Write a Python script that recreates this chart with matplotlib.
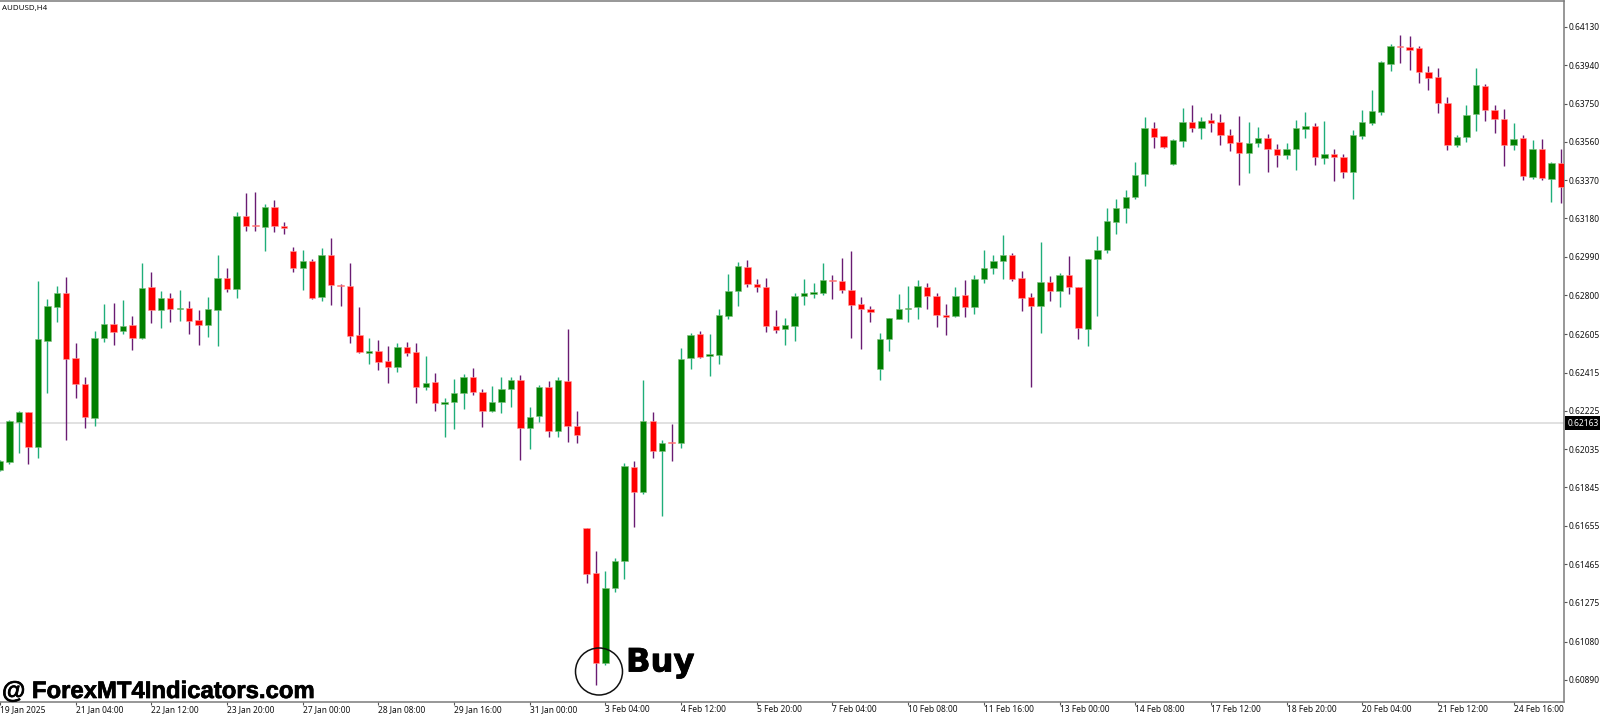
import matplotlib
matplotlib.use("Agg")
import matplotlib.pyplot as plt
import matplotlib.patheffects as pe
from matplotlib.patches import Circle
import numpy as np

# candle direction, G = bullish, R = bearish
directions = ("GGGRGGGRRR" "GGRGRGRGRG" "RRGGRGRRGR" "RRGRGRRRRG" "RRGRRGRGGG"
              "RRGGGRGGRG" "RRRRGGGRGR" "GRGGRGGGGR" "RRRGGGGGRR" "RRRGGGGGRR"
              "RGRGGGGRRR" "GRGRRGGGGG" "GGRRGGRGRR" "RRGGRRGGGR" "GRRGGGGGRR"
              "RRRRGGGRRR" "GRGRGR")

# prices in points (1 point = 0.00001)
highs = [
 61980,62178,62226,62222,62868,62778,62846,62891,62560,62395,
 62623,62758,62762,62775,62696,62959,62914,62820,62811,62823,
 62770,62724,62790,62998,62932,63210,63308,63311,63250,63271,
 63164,63036,63023,62978,63031,63081,62853,62960,62743,62585,
 62576,62545,62560,62565,62560,62499,62413,62290,62381,62408,
 62436,62333,62350,62395,62395,62403,62244,62353,62371,62395,
 62629,62224,61643,61530,61429,61495,61965,61977,62377,62218,
 62083,62160,62539,62614,62623,62607,62730,62904,62964,62974,
 62881,62883,62724,62687,62810,62881,62861,62957,62901,62982,
 63017,62788,62745,62611,62687,62803,62844,62874,62861,62810,
 62754,62840,62873,62897,63023,62997,63097,63011,62919,62808,
 63063,62896,62911,62993,62839,62980,63093,63230,63279,63321,
 63460,63681,63658,63589,63572,63728,63744,63683,63701,63698,
 63622,63686,63658,63632,63599,63549,63554,63668,63708,63653,
 63663,63523,63499,63618,63717,63818,63962,64048,64092,64086,
 64036,63938,63927,63781,63593,63745,63925,63847,63745,63723,
 63656,63593,63568,63572,63460,63523]
body_tops = [
 61976,62175,62221,62221,62580,62745,62808,62808,62490,62358,
 62588,62658,62658,62646,62649,62835,62838,62783,62783,62737,
 62737,62676,62729,62887,62887,63192,63192,63147,63236,63236,
 63145,63018,62967,62967,62998,62998,62849,62843,62600,62520,
 62522,62472,62543,62543,62517,62366,62370,62269,62313,62393,
 62393,62317,62267,62335,62376,62380,62196,62343,62343,62376,
 62373,62148,61643,61419,61348,61479,61952,61949,62177,62177,
 62068,62071,62485,62602,62607,62508,62701,62821,62942,62939,
 62856,62840,62648,62651,62795,62808,62816,62874,62876,62869,
 62826,62755,62732,62580,62684,62730,62737,62843,62838,62795,
 62701,62795,62798,62881,62935,62968,62998,62998,62887,62788,
 62863,62863,62901,62897,62839,62977,63025,63169,63230,63284,
 63398,63627,63630,63589,63567,63657,63657,63666,63668,63658,
 63594,63559,63552,63580,63577,63524,63524,63627,63638,63638,
 63501,63501,63485,63594,63657,63713,63955,64036,64036,64033,
 64024,63907,63880,63752,63583,63694,63841,63838,63718,63674,
 63573,63578,63525,63524,63455,63455]
body_bottoms = [
 61932,61971,62171,62047,62047,62573,62739,62485,62360,62193,
 62189,62586,62618,62621,62586,62585,62724,62724,62730,62732,
 62671,62651,62653,62724,62828,62830,63144,63142,63140,63142,
 63134,62932,62935,62783,62790,62849,62844,62595,62517,62514,
 62467,62441,62441,62514,62342,62342,62262,62259,62269,62313,
 62318,62226,62226,62269,62333,62140,62140,62198,62125,62125,
 62150,62105,61414,60976,60976,61347,61481,61823,61823,62025,
 62026,62064,62064,62486,62494,62496,62504,62697,62821,62856,
 62841,62644,62626,62630,62646,62795,62806,62811,62869,62826,
 62752,62729,62717,62431,62583,62682,62730,62739,62795,62701,
 62692,62694,62740,62742,62882,62935,62970,62881,62787,62747,
 62747,62818,62821,62839,62638,62633,62977,63021,63164,63233,
 63284,63399,63585,63534,63450,63566,63628,63627,63655,63592,
 63556,63506,63503,63552,63523,63493,63493,63524,63625,63485,
 63480,63483,63410,63411,63589,63654,63710,63948,64031,64018,
 63905,63879,63753,63545,63543,63584,63697,63718,63674,63546,
 63545,63389,63388,63379,63376,63338]
lows = [
 61925,61963,62017,61964,61991,62315,62667,62080,62290,62138,
 62150,62567,62552,62606,62525,62581,62661,62638,62664,62672,
 62608,62550,62593,62548,62816,62787,63119,63119,63018,63114,
 63104,62912,62826,62780,62772,62750,62747,62562,62512,62457,
 62428,62365,62419,62497,62266,62330,62226,62095,62133,62236,
 62305,62145,62221,62213,62242,61983,62037,62168,62097,62098,
 62072,62067,61370,60867,60966,61327,61393,61649,61811,61990,
 61702,61977,62043,62433,62489,62399,62458,62682,62747,62840,
 62815,62615,62611,62550,62572,62750,62783,62801,62778,62811,
 62585,62532,62664,62380,62522,62681,62668,62682,62732,62643,
 62603,62689,62692,62707,62861,62902,62881,62868,62720,62345,
 62610,62772,62739,62805,62583,62545,62697,63011,63102,63159,
 63278,63342,63532,63528,63443,63534,63609,63574,63609,63544,
 63513,63346,63404,63536,63410,63435,63475,63422,63577,63446,
 63450,63365,63382,63278,63575,63646,63694,63910,63950,63915,
 63854,63816,63704,63520,63535,63558,63614,63664,63604,63442,
 63518,63369,63376,63372,63263,63258]

time_labels = ["19 Jan 2025","21 Jan 04:00","22 Jan 12:00","23 Jan 20:00","27 Jan 00:00",
               "28 Jan 08:00","29 Jan 16:00","31 Jan 00:00","3 Feb 04:00","4 Feb 12:00",
               "5 Feb 20:00","7 Feb 04:00","10 Feb 08:00","11 Feb 16:00","13 Feb 00:00",
               "14 Feb 08:00","17 Feb 12:00","18 Feb 20:00","20 Feb 04:00","21 Feb 12:00",
               "24 Feb 16:00"]
price_ticks = [0.64130,0.63940,0.63750,0.63560,0.63370,0.63180,0.62990,0.62800,0.62605,
               0.62415,0.62225,0.62035,0.61845,0.61655,0.61465,0.61275,0.61080,0.60890]
current_price = 0.62163
symbol = "AUDUSD,H4"
bars_per_label = 8

H, T, B, L = [np.array(a) / 1e5 for a in (highs, body_tops, body_bottoms, lows)]
x = np.arange(len(H))
up = np.array([d == "G" for d in directions])

W, Ht = 1600, 714
BAR = 9.46
AX_R, AX_T, AX_B = 1563.5, 1.0, 701.7
PX = 4.962e-5
FONT = "Noto Sans"
LBL = 6.05

fig = plt.figure(figsize=(16, 7.14), dpi=100, facecolor="white")
ax = fig.add_axes([0, 1 - AX_B / Ht, AX_R / W, (AX_B - AX_T) / Ht])
ax.set_xlim(0, AX_R / BAR)
ax.set_ylim(0.64130 - (AX_B - 27) * PX, 0.64130 + (27 - AX_T) * PX)

ax.axhline(current_price, color="#d9d9d9", lw=1.1, zorder=1)
ax.vlines(x[up], L[up], H[up], color="#1fae7a", lw=1.0, zorder=2)
ax.vlines(x[~up], L[~up], H[~up], color="#6a1b72", lw=1.0, zorder=2)
w = 6.4 / BAR
ax.bar(x[up], (T - B)[up], bottom=B[up], width=w, color="#008000",
       edgecolor="#7fbf7f", linewidth=0.4, zorder=3)
ax.bar(x[~up], (T - B)[~up], bottom=B[~up], width=w, color="#ff0000",
       edgecolor="#ff9f9f", linewidth=0.4, zorder=3)

ax.spines["left"].set_visible(False)
for s in ("right", "top", "bottom"):
    ax.spines[s].set_color("#7a7a7a")
    ax.spines[s].set_linewidth(1.1)

ax.yaxis.tick_right()
ax.set_yticks(price_ticks)
ax.set_yticklabels([f"{p:.5f}" for p in price_ticks], fontsize=LBL, family=FONT, color="#111111")
ax.tick_params(axis="y", length=2, width=0.8, color="#555555", pad=1.5)
ax.set_xticks(x[::bars_per_label][:len(time_labels)])
ax.set_xticklabels(time_labels, fontsize=LBL, family=FONT, color="#111111", ha="left")
ax.tick_params(axis="x", length=2, width=0.8, color="#555555", pad=0.4)

ax.annotate(f"{current_price:.5f}", xy=(1, current_price), xycoords=("axes fraction", "data"),
            xytext=(3.1, 0), textcoords="offset points", va="center", ha="left",
            fontsize=LBL, family=FONT, color="white", zorder=10,
            bbox=dict(boxstyle="square,pad=0.3", fc="black", ec="black", lw=0))

ov = fig.add_axes([0, 0, 1, 1], facecolor="none")
ov.set_xlim(0, W)
ov.set_ylim(Ht, 0)
ov.axis("off")
ov.text(2, 8.5, symbol, fontsize=5.7, family=FONT, color="#111111", va="center", ha="left")
ov.add_patch(Circle((599, 671.5), 23.5, fill=False, ec="#111111", lw=1.1))
ov.text(626, 671.5, "Buy", fontsize=23.2, family="DejaVu Sans", weight="bold",
        color="black", va="baseline", ha="left",
        path_effects=[pe.withStroke(linewidth=0.6, foreground="black")])
ov.text(2, 698, "@ ForexMT4Indicators.com", fontsize=17.2, family="Liberation Sans", weight="bold",
        color="black", va="baseline", ha="left",
        path_effects=[pe.withStroke(linewidth=0.5, foreground="black")])

fig.savefig("out.png", dpi=100, facecolor="white")
